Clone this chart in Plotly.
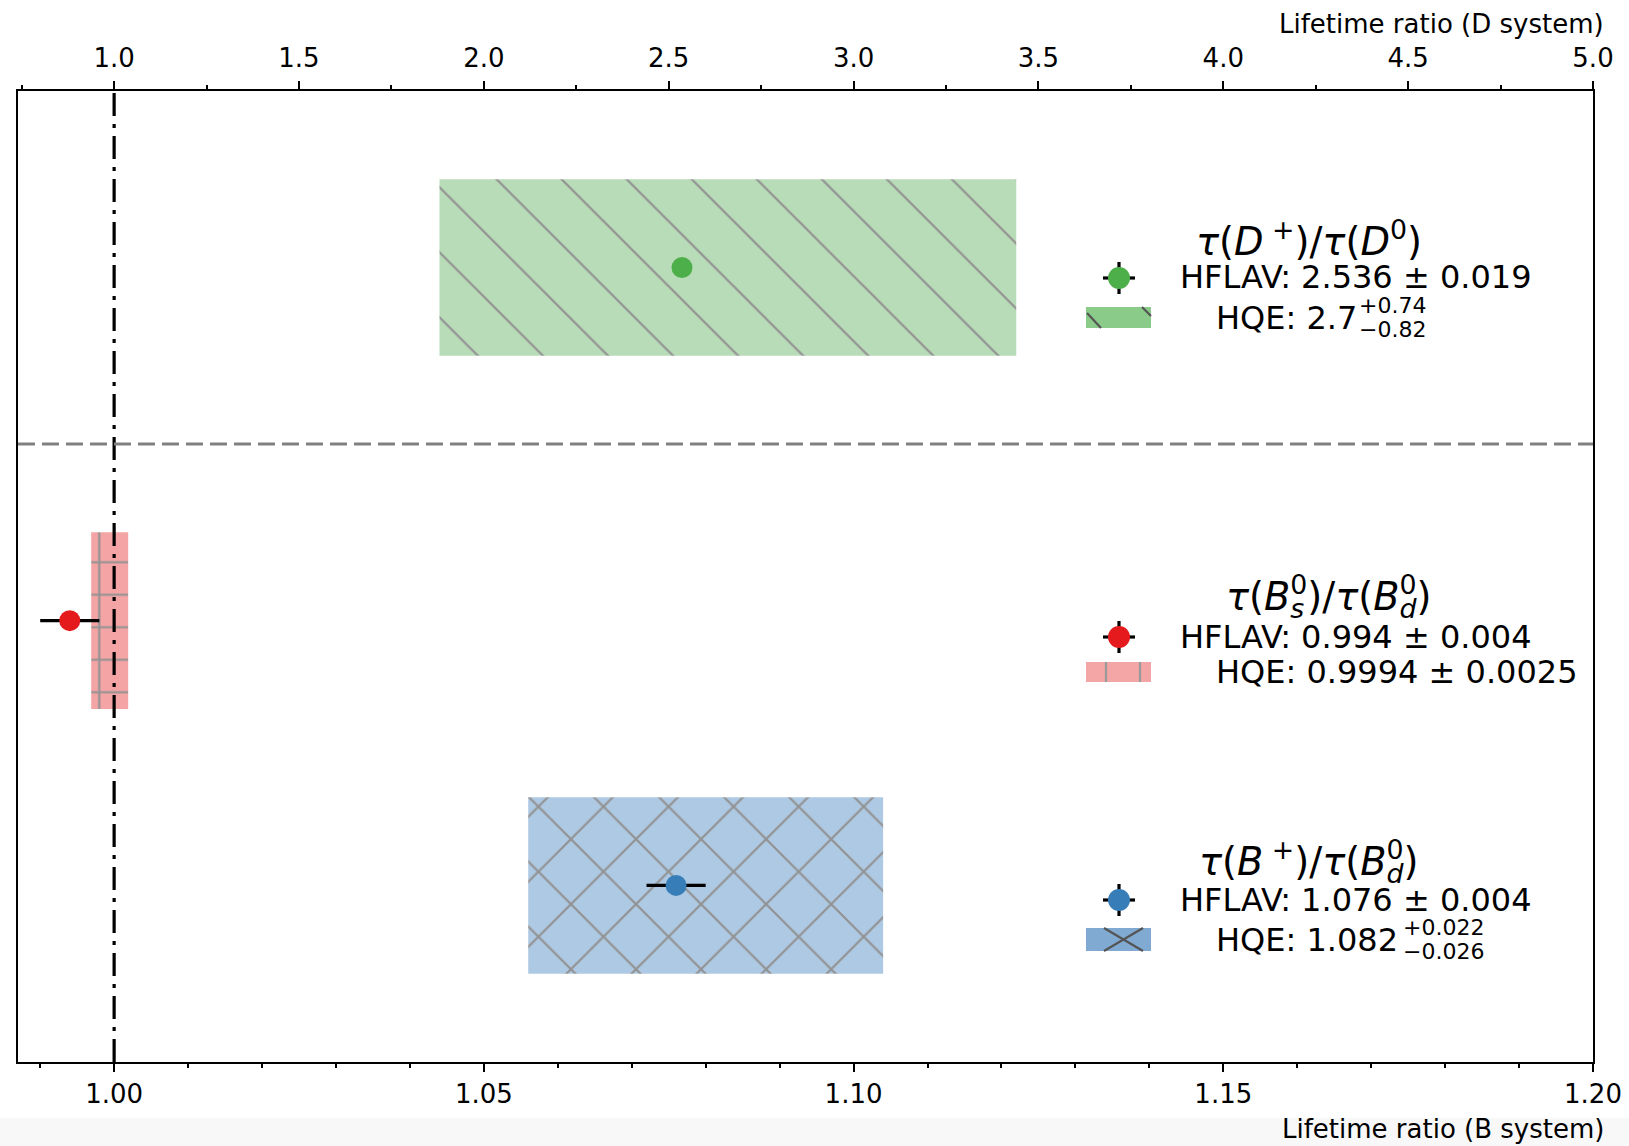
import plotly.graph_objects as go

# ---------------- data ----------------
ratio_keys = ["D+/D0", "Bs0/Bd0", "B+/Bd0"]
ratio_system = ["D", "B", "B"]
hflav_value = [2.536, 0.994, 1.076]
hflav_error = [0.019, 0.004, 0.004]
hqe_value = [2.7, 0.9994, 1.082]
hqe_err_up = [0.74, 0.0025, 0.022]
hqe_err_down = [0.82, 0.0025, 0.026]
hqe_symmetric = [False, True, False]
reference_ratio = 1.0

b_axis_range = [0.987, 1.20]
d_from_b_scale = 20.0          # D ratio = 1 + (B ratio - 1) * 20
b_tick_step, b_minor_step = 0.05, 0.01
d_tick_step, d_minor_step = 0.5, 0.25
top_axis_title = "Lifetime ratio (D system)"
bottom_axis_title = "Lifetime ratio (B system)"

# ---------------- styles / layout ----------------
FONT = "DejaVu Sans"
marker_colors = ["#4daf4a", "#e41a1c", "#377eb8"]
box_colors = ["#b8dcb8", "#f4a4a5", "#aec9e3"]
patch_colors = ["#8acb89", "#f4a6a6", "#81aad3"]
hatch_shapes = ["\\", "+", "x"]
hatch_sizes = [46, 32.5, 46]
hatch_solidity = [0.048, 0.13, 0.093]
row_pos = [7 / 3, 1.0, 0.0]     # vertical slot of each ratio
box_height = 2 / 3
y_range = [-2 / 3, 3.0]
separator_y = 5 / 3

W, H = 1629, 1146
ML, MR, MT, MB = 18, 36, 91, 84
PW, PH = W - ML - MR, H - MT - MB
LEG_FONT = 32
TITLE_FONT = 38.3


def px(X):
    return (X - ML) / PW


def py(Y):
    return (H - MB - Y) / PH


d_axis_range = [1 + (v - 1) * d_from_b_scale for v in b_axis_range]

fig = go.Figure()

# HQE boxes
for i in range(3):
    lo = hqe_value[i] - hqe_err_down[i]
    hi = hqe_value[i] + hqe_err_up[i]
    fig.add_trace(go.Bar(
        orientation="h", y=[row_pos[i]], base=[lo], x=[hi - lo], width=box_height,
        marker=dict(color=box_colors[i], line=dict(width=0),
                    pattern=dict(shape=hatch_shapes[i], fillmode="overlay",
                                 bgcolor=box_colors[i], fgcolor="#929292",
                                 fgopacity=1, size=hatch_sizes[i],
                                 solidity=hatch_solidity[i])),
        xaxis="x2" if ratio_system[i] == "D" else "x", yaxis="y",
        showlegend=False, hoverinfo="skip"))

# HFLAV points
for i in range(3):
    fig.add_trace(go.Scatter(
        x=[hflav_value[i]], y=[row_pos[i]], mode="markers",
        marker=dict(color=marker_colors[i], size=21, line=dict(width=0)),
        error_x=dict(type="data", array=[hflav_error[i]], color="black",
                     thickness=3.2, width=0),
        xaxis="x2" if ratio_system[i] == "D" else "x", yaxis="y",
        showlegend=False))

shapes = []
annotations = []

# bottom grey band of the picture
shapes.append(dict(type="rect", xref="paper", yref="paper", layer="below",
                   x0=px(0), x1=px(W), y0=py(1118), y1=py(H + 2),
                   fillcolor="#f8f8f8", line=dict(width=0)))
# reference line at ratio 1
shapes.append(dict(type="line", xref="x", yref="paper", layer="above",
                   x0=reference_ratio, x1=reference_ratio, y0=0, y1=1,
                   line=dict(color="black", width=3.2, dash="23px,8px,4px,8px")))
# separator between D and B systems
shapes.append(dict(type="line", xref="paper", yref="y", layer="above",
                   x0=0, x1=1, y0=separator_y, y1=separator_y,
                   line=dict(color="#808080", width=3, dash="17px,7px")))

# ---------------- legend-like labels ----------------
def stack(sub, sup, sub_w):
    return (f"<sub><span style='letter-spacing:-{sub_w}px'><i>{sub}</i></span></sub>"
            f"<sup>{sup}</sup>")


sub_size = 0.7 * TITLE_FONT
titles = [
    "<i>τ</i>(<i>D</i><sup> +</sup>)/<i>τ</i>(<i>D</i><sup>0</sup>)",
    "<i>τ</i>(<i>B</i>" + stack("s", "0", round(0.521 * sub_size, 1)) + ")/<i>τ</i>(<i>B</i>"
    + stack("d", "0", round(0.635 * sub_size, 1)) + ")",
    "<i>τ</i>(<i>B</i><sup> +</sup>)/<i>τ</i>(<i>B</i>" + stack("d", "0", round(0.635 * sub_size, 1)) + ")",
]
title_cx = [1309, 1329, 1308]
title_cy = [239, 596, 861]
mark_x = 1119
mark_y = [278, 637, 900]
text_x = 1177.5
hflav_y = [277, 636.5, 900]
patch_x = (1086, 1151)
patch_y = [(307, 328), (662, 682), (928, 951)]
hqe_x = 1213.5
hqe_y = [317.5, 672, 939.5]
supsub_x = [1357, None, 1401]

for i in range(3):
    annotations.append(dict(xref="paper", yref="paper", x=px(title_cx[i]), y=py(title_cy[i]),
                            text=titles[i], showarrow=False, xanchor="center", yanchor="middle",
                            font=dict(family=FONT, size=TITLE_FONT, color="black")))
    # marker glyph with error cross
    mx, my = mark_x, mark_y[i]
    shapes.append(dict(type="line", xref="paper", yref="paper", x0=px(mx - 16), x1=px(mx + 16),
                       y0=py(my), y1=py(my), line=dict(color="black", width=3.2)))
    shapes.append(dict(type="line", xref="paper", yref="paper", x0=px(mx), x1=px(mx),
                       y0=py(my - 16), y1=py(my + 16), line=dict(color="black", width=3.2)))
    shapes.append(dict(type="circle", xref="paper", yref="paper", x0=px(mx - 11), x1=px(mx + 11),
                       y0=py(my + 11), y1=py(my - 11), fillcolor=marker_colors[i],
                       line=dict(width=0)))
    annotations.append(dict(xref="paper", yref="paper", x=px(text_x), y=py(hflav_y[i]),
                            text=f"HFLAV: {hflav_value[i]} ± {hflav_error[i]}", showarrow=False,
                            xanchor="left", yanchor="middle",
                            font=dict(family=FONT, size=LEG_FONT, color="black")))
    # patch glyph
    y0, y1 = patch_y[i]
    shapes.append(dict(type="rect", xref="paper", yref="paper", x0=px(patch_x[0]), x1=px(patch_x[1]),
                       y0=py(y1), y1=py(y0), fillcolor=patch_colors[i], line=dict(width=0)))
    if hqe_symmetric[i]:
        txt = f"HQE: {hqe_value[i]} ± {hqe_err_up[i]}"
        annotations.append(dict(xref="paper", yref="paper", x=px(hqe_x), y=py(hqe_y[i]), text=txt,
                                showarrow=False, xanchor="left", yanchor="middle",
                                font=dict(family=FONT, size=LEG_FONT, color="black")))
    else:
        annotations.append(dict(xref="paper", yref="paper", x=px(hqe_x), y=py(hqe_y[i]),
                                text=f"HQE: {hqe_value[i]}", showarrow=False, xanchor="left",
                                yanchor="middle", font=dict(family=FONT, size=LEG_FONT, color="black")))
        annotations.append(dict(xref="paper", yref="paper", x=px(supsub_x[i]), y=py(hqe_y[i] - 12),
                                text=f"+{hqe_err_up[i]}", showarrow=False, xanchor="left",
                                yanchor="middle", font=dict(family=FONT, size=22, color="black")))
        annotations.append(dict(xref="paper", yref="paper", x=px(supsub_x[i]), y=py(hqe_y[i] + 12),
                                text=f"\u2212{hqe_err_down[i]}", showarrow=False, xanchor="left",
                                yanchor="middle", font=dict(family=FONT, size=22, color="black")))

# patch hatches
hl = dict(color="#555555", width=2.2)
shapes += [
    dict(type="line", xref="paper", yref="paper", x0=px(1087), y0=py(313), x1=px(1101), y1=py(328), line=hl),
    dict(type="line", xref="paper", yref="paper", x0=px(1142), y0=py(307), x1=px(1151), y1=py(316), line=hl),
    dict(type="line", xref="paper", yref="paper", x0=px(1106), y0=py(662), x1=px(1106), y1=py(682),
         line=dict(color="#999999", width=2.2)),
    dict(type="line", xref="paper", yref="paper", x0=px(1140), y0=py(662), x1=px(1140), y1=py(682),
         line=dict(color="#999999", width=2.2)),
    dict(type="line", xref="paper", yref="paper", x0=px(1104), y0=py(951), x1=px(1143), y1=py(928), line=hl),
    dict(type="line", xref="paper", yref="paper", x0=px(1104), y0=py(928), x1=px(1143), y1=py(951), line=hl),
]

# axis titles
annotations.append(dict(xref="paper", yref="paper", x=px(1606), y=py(24), text=top_axis_title,
                        showarrow=False, xanchor="right", yanchor="middle",
                        font=dict(family=FONT, size=26, color="black")))
annotations.append(dict(xref="paper", yref="paper", x=px(1606), y=py(1129), text=bottom_axis_title,
                        showarrow=False, xanchor="right", yanchor="middle",
                        font=dict(family=FONT, size=26, color="black")))

axis_common = dict(showgrid=False, zeroline=False, showline=True, linecolor="black", linewidth=2,
                   ticks="outside", ticklen=8, tickwidth=2, tickcolor="black", automargin=False,
                   tickfont=dict(family=FONT, size=26, color="black"))

fig.update_layout(
    width=W, height=H,
    margin=dict(l=ML, r=MR, t=MT, b=MB, pad=0, autoexpand=False),
    paper_bgcolor="white", plot_bgcolor="white",
    barmode="overlay", showlegend=False,
    xaxis=dict(range=b_axis_range, tick0=1.0, dtick=b_tick_step, tickformat=".2f",
               minor=dict(dtick=b_minor_step, tick0=1.0, ticks="outside", ticklen=4,
                          tickwidth=1.5, tickcolor="black"),
               side="bottom", anchor="y", **axis_common),
    xaxis2=dict(range=d_axis_range, tick0=1.0, dtick=d_tick_step, tickformat=".1f",
                minor=dict(dtick=d_minor_step, tick0=1.0, ticks="outside", ticklen=4,
                           tickwidth=1.5, tickcolor="black"),
                side="top", overlaying="x", anchor="y", ticklabelstandoff=4, **axis_common),
    yaxis=dict(range=y_range, showticklabels=False, ticks="", showgrid=False, zeroline=False,
               showline=True, mirror=True, linecolor="black", linewidth=2, automargin=False),
    shapes=shapes, annotations=annotations,
)

fig.write_html("out.html")
